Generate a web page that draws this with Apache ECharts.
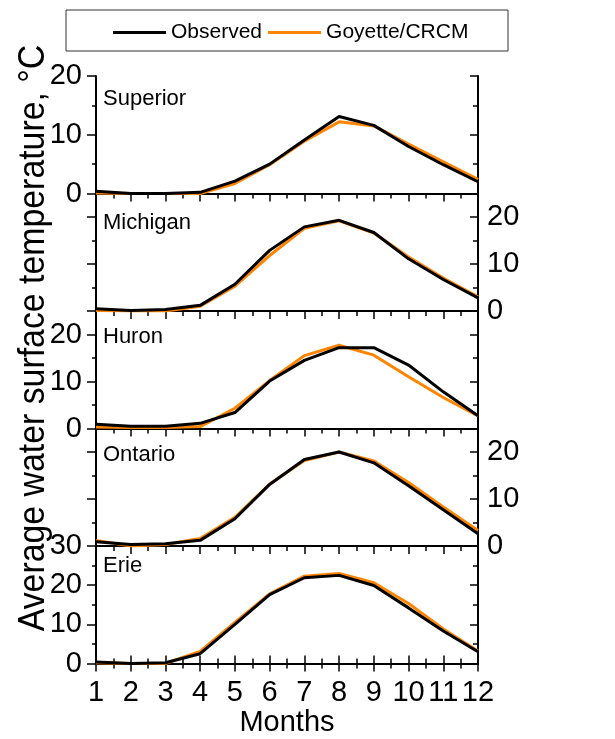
<!DOCTYPE html>
<html>
<head>
<meta charset="utf-8">
<script src="https://cdn.jsdelivr.net/npm/echarts@6/dist/echarts.min.js"></script>
<style>
  html, body { margin: 0; padding: 0; background: #fff; }
  #chart { width: 615px; height: 739px; }
</style>
</head>
<body>
<div id="chart"></div>
<script>
// monthly mean water surface temperature, degC
var months = [1, 2, 3, 4, 5, 6, 7, 8, 9, 10, 11, 12]
var lakes = ['Superior', 'Michigan', 'Huron', 'Ontario', 'Erie']

var superiorObs = [0.4, 0.0, 0.0, 0.2, 2.1, 5.0, 9.1, 13.1, 11.6, 8.0, 4.9, 2.0]
var superiorMod = [0.1, 0.0, 0.0, 0.0, 1.7, 4.9, 8.9, 12.2, 11.5, 8.4, 5.4, 2.4]
var michiganObs = [0.5, 0.1, 0.3, 1.2, 5.7, 12.9, 17.9, 19.3, 16.7, 11.1, 6.7, 2.8]
var michiganMod = [0.1, 0.0, 0.0, 1.0, 5.3, 11.8, 17.6, 19.2, 16.6, 11.5, 7.0, 3.0]
var huronObs = [0.9, 0.5, 0.5, 1.1, 3.4, 10.1, 14.5, 17.2, 17.2, 13.5, 7.8, 2.7]
var huronMod = [0.3, 0.2, 0.2, 0.4, 4.3, 10.2, 15.5, 17.7, 15.6, 11.0, 6.6, 2.7]
var ontarioObs = [0.9, 0.3, 0.5, 1.2, 5.8, 13.1, 18.4, 20.0, 17.7, 12.8, 7.7, 2.6]
var ontarioMod = [1.2, 0.0, 0.3, 1.6, 6.1, 13.2, 18.2, 20.0, 18.1, 13.5, 8.3, 3.3]
var erieObs = [0.4, 0.0, 0.2, 2.5, 10.0, 17.6, 21.9, 22.5, 19.9, 14.2, 8.3, 3.0]
var erieMod = [0.2, 0.0, 0.0, 3.1, 10.5, 17.8, 22.3, 23.0, 20.6, 15.3, 8.8, 3.2]

var observed = [superiorObs, michiganObs, huronObs, ontarioObs, erieObs]
var modelled = [superiorMod, michiganMod, huronMod, ontarioMod, erieMod]

var yMax = [20, 25, 25, 25, 30]
var yLabelSide = ['left', 'right', 'left', 'right', 'left']

var FONT = 'Liberation Sans, Arial, Helvetica, sans-serif'
var ORANGE = '#ff8400'
var gridTop = [76, 193.5, 311, 428.5, 546]
var gridH = 117.5
var nameOffset = [24, 30, 27, 27, 21]

var chart = echarts.init(document.getElementById('chart'))

var grid = [], xAxis = [], yAxis = [], series = [], graphic = []
var axisLine = { show: true, lineStyle: { color: '#000', width: 2 } }

lakes.forEach(function (lake, i) {
  grid.push({ left: 96, width: 382, top: gridTop[i], height: gridH })

  // bottom axis (2i) and top axis (2i+1)
  var last = i === lakes.length - 1
  xAxis.push({
    type: 'value', gridIndex: i, position: 'bottom', min: 1, max: 12, interval: 1,
    axisLine: axisLine,
    axisTick: { show: last, inside: true, length: 8, lineStyle: { color: '#000', width: 1.5 } },
    minorTick: { show: last, splitNumber: 2, length: 5, lineStyle: { color: '#000', width: 1.5 } },
    axisLabel: { show: false },
    splitLine: { show: false }
  })
  xAxis.push({
    type: 'value', gridIndex: i, position: 'top', min: 1, max: 12, interval: 1,
    axisLine: axisLine,
    axisTick: { show: true, inside: true, length: 8, lineStyle: { color: '#000', width: 1.5 } },
    minorTick: { show: true, splitNumber: 2, length: 5, lineStyle: { color: '#000', width: 1.5 } },
    axisLabel: { show: false },
    splitLine: { show: false }
  })

  // left major, left minor, right major, right minor
  ;['left', 'right'].forEach(function (side) {
    var inside = side === 'right'
    yAxis.push({
      type: 'value', gridIndex: i, position: side, min: 0, max: yMax[i], interval: 10,
      axisLine: axisLine,
      axisTick: { show: true, inside: inside, length: inside ? 8 : 9, lineStyle: { color: '#000', width: 1.5 } },
      axisLabel: {
        show: yLabelSide[i] === side,
        margin: inside ? 9 : 14,
        fontSize: 29, color: '#000', fontFamily: FONT,
        formatter: function (v) { return v % 10 === 0 ? v : '' }
      },
      splitLine: { show: false }
    })
    yAxis.push({
      type: 'value', gridIndex: i, position: side, min: 0, max: yMax[i], interval: 5,
      axisLine: { show: false },
      axisTick: { show: true, inside: inside, length: inside ? 5 : 4, lineStyle: { color: '#000', width: 1.5 } },
      axisLabel: { show: false },
      splitLine: { show: false }
    })
  })

  series.push({
    name: 'Goyette/CRCM', type: 'line', xAxisIndex: 2 * i, yAxisIndex: 4 * i,
    data: months.map(function (m, k) { return [m, modelled[i][k]] }),
    symbol: 'none', z: 2,
    itemStyle: { color: ORANGE },
    lineStyle: { color: ORANGE, width: 3 }
  })
  series.push({
    name: 'Observed', type: 'line', xAxisIndex: 2 * i, yAxisIndex: 4 * i,
    data: months.map(function (m, k) { return [m, observed[i][k]] }),
    symbol: 'none', z: 3,
    itemStyle: { color: '#000' },
    lineStyle: { color: '#000', width: 3 }
  })

  graphic.push({
    type: 'text', left: 103, top: gridTop[i] + nameOffset[i] - 12,
    style: { text: lake, fill: '#000', font: '22px ' + FONT }
  })
})

// Erie: outward ticks and month labels
xAxis.push({
  type: 'value', gridIndex: 4, position: 'bottom', min: 1, max: 12, interval: 1,
  axisLine: { show: false },
  axisTick: { show: true, inside: false, length: 8, lineStyle: { color: '#000', width: 1.5 } },
  minorTick: { show: true, splitNumber: 2, length: 5, lineStyle: { color: '#000', width: 1.5 } },
  axisLabel: { show: true, margin: 15, fontSize: 29, color: '#000', fontFamily: FONT },
  splitLine: { show: false },
  name: 'Months', nameLocation: 'middle', nameGap: 45,
  nameTextStyle: { fontSize: 29, color: '#000', fontFamily: FONT }
})

graphic.push({
  type: 'rect', shape: { x: 66, y: 10, width: 442, height: 41 },
  style: { fill: '#fff', stroke: '#333', lineWidth: 1 }, z: -1
})
graphic.push({
  type: 'text', x: 34, y: 338, rotation: Math.PI / 2, scaleX: 0.94,
  style: {
    text: 'Average water surface temperature, °C',
    font: '36px ' + FONT, fill: '#000', align: 'center', verticalAlign: 'middle'
  }
})

var option = {
  animation: false,
  backgroundColor: '#fff',
  legend: {
    data: ['Observed', 'Goyette/CRCM'],
    left: 108, top: 17,
    icon: 'rect', itemWidth: 53, itemHeight: 3, itemGap: 6,
    textStyle: { fontSize: 21, color: '#000', fontFamily: FONT }
  },
  grid: grid,
  xAxis: xAxis,
  yAxis: yAxis,
  series: series,
  graphic: graphic
}
chart.setOption(option)
</script>
</body>
</html>
